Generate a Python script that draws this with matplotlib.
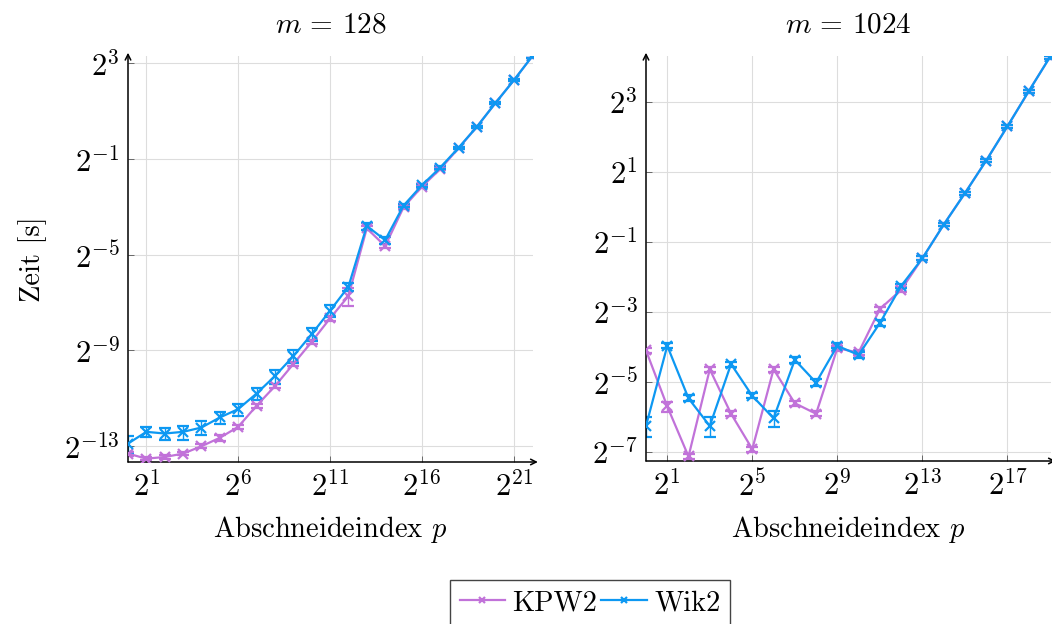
import numpy as np
import matplotlib
matplotlib.use("Agg")
import matplotlib.pyplot as plt
from matplotlib.ticker import FixedLocator, FuncFormatter, NullLocator

plt.rcParams['font.family'] = ['cmr10', 'DejaVu Serif']
plt.rcParams['mathtext.fontset'] = 'cm'
plt.rcParams['axes.unicode_minus'] = False
plt.rcParams['axes.formatter.use_mathtext'] = True

# truncation index p = 2^k
k_128 = [0, 1, 2, 3, 4, 5, 6, 7, 8, 9, 10, 11, 12, 13, 14, 15, 16, 17, 18, 19, 20, 21, 22]
k_1024 = [0, 1, 2, 3, 4, 5, 6, 7, 8, 9, 10, 11, 12, 13, 14, 15, 16, 17, 18, 19]

# mean runtime as log2(seconds)
kpw2_128 = [-13.31, -13.52, -13.45, -13.31, -13.00, -12.65, -12.19, -11.31, -10.49, -9.57, -8.64, -7.66,
            -6.73, -3.90, -4.64, -3.02, -2.16, -1.42, -0.55, 0.35, 1.33, 2.28, 3.28]
wik2_128 = [-12.89, -12.40, -12.47, -12.40, -12.22, -11.80, -11.45, -10.80, -10.07, -9.24, -8.32, -7.34,
            -6.34, -3.80, -4.39, -2.95, -2.10, -1.36, -0.53, 0.35, 1.33, 2.28, 3.28]
kpw2_1024 = [-4.11, -5.71, -7.14, -4.65, -5.92, -6.93, -4.65, -5.62, -5.92, -4.05, -4.17, -2.93,
             -2.38, -1.48, -0.52, 0.38, 1.31, 2.29, 3.29, 4.27]
wik2_1024 = [-6.27, -3.98, -5.48, -6.27, -4.50, -5.41, -6.05, -4.38, -5.03, -3.98, -4.24, -3.33,
             -2.27, -1.48, -0.52, 0.38, 1.31, 2.29, 3.29, 4.27]

# standard deviation relative to the mean
kpw2_128_err = [0.06, 0.05, 0.05, 0.05, 0.06, 0.10, 0.06, 0.06, 0.06, 0.06, 0.06, 0.07,
                0.25, 0.06, 0.06, 0.04, 0.04, 0.04, 0.03, 0.03, 0.03, 0.03, 0.03]
wik2_128_err = [0.25, 0.15, 0.17, 0.20, 0.20, 0.17, 0.17, 0.17, 0.20, 0.18, 0.18, 0.17,
                0.12, 0.10, 0.10, 0.05, 0.04, 0.04, 0.03, 0.03, 0.03, 0.03, 0.03]
kpw2_1024_err = [0.05, 0.10, 0.05, 0.05, 0.05, 0.05, 0.05, 0.05, 0.05, 0.05, 0.05, 0.05,
                 0.05, 0.04, 0.03, 0.03, 0.03, 0.03, 0.03, 0.03]
wik2_1024_err = [0.20, 0.05, 0.06, 0.20, 0.05, 0.05, 0.15, 0.06, 0.07, 0.05, 0.05, 0.06,
                 0.04, 0.04, 0.03, 0.03, 0.03, 0.03, 0.03, 0.03]

KPW2_COLOR = '#c172d9'
WIK2_COLOR = '#0d98f2'


def pow2_label(v, pos):
    return r'$2^{%d}$' % round(np.log2(v))


def draw_panel(ax, k, series, xticks, yticks, xlim, ylim, title):
    p = 2.0 ** np.array(k)
    for vals, rel, color, label in series:
        t = 2.0 ** np.array(vals)
        ax.errorbar(p, t, yerr=t * np.array(rel), color=color, lw=1.6, marker='x',
                    ms=6.5, mew=1.6, ecolor=color, elinewidth=1.0, capsize=4,
                    capthick=1.0, label=label, zorder=3)
    ax.set_xscale('log', base=2)
    ax.set_yscale('log', base=2)
    ax.set_xlim(2.0 ** xlim[0], 2.0 ** xlim[1])
    ax.set_ylim(2.0 ** ylim[0], 2.0 ** ylim[1])
    ax.xaxis.set_major_locator(FixedLocator([2.0 ** e for e in xticks]))
    ax.yaxis.set_major_locator(FixedLocator([2.0 ** e for e in yticks]))
    ax.xaxis.set_minor_locator(NullLocator())
    ax.yaxis.set_minor_locator(NullLocator())
    ax.xaxis.set_major_formatter(FuncFormatter(pow2_label))
    ax.yaxis.set_major_formatter(FuncFormatter(pow2_label))
    ax.tick_params(direction='in', length=4, width=0.6, color='#555555', labelsize=22, pad=6)
    ax.grid(True, color='#dddddd', lw=0.8)
    for s in ax.spines.values():
        s.set_visible(False)
    # axis lines with arrow heads
    arrow = dict(arrowstyle='->', lw=1.1, color='black', shrinkA=0, shrinkB=0,
                 mutation_scale=10)
    ax.annotate('', xy=(1.012, 0), xytext=(0, 0), xycoords='axes fraction', arrowprops=arrow)
    ax.annotate('', xy=(0, 1.008), xytext=(0, 0), xycoords='axes fraction', arrowprops=arrow)
    ax.set_title(title, fontsize=21, pad=17)
    ax.set_xlabel(r'Abschneideindex $p$', fontsize=20.5, labelpad=9)


fig = plt.figure(figsize=(10.52, 6.24), dpi=100)
ax1 = fig.add_axes([128 / 1052, 1 - 462 / 624, 405 / 1052, 406 / 624])
ax2 = fig.add_axes([646 / 1052, 1 - 461 / 624, 405 / 1052, 405 / 624])

draw_panel(ax1, k_128,
           [(kpw2_128, kpw2_128_err, KPW2_COLOR, 'KPW2'),
            (wik2_128, wik2_128_err, WIK2_COLOR, 'Wik2')],
           [1, 6, 11, 16, 21], [-13, -9, -5, -1, 3],
           (0, 22.05), (-13.66, 3.3), r'$m\,=\,128$')
draw_panel(ax2, k_1024,
           [(kpw2_1024, kpw2_1024_err, KPW2_COLOR, 'KPW2'),
            (wik2_1024, wik2_1024_err, WIK2_COLOR, 'Wik2')],
           [1, 5, 9, 13, 17], [-7, -5, -3, -1, 1, 3],
           (0, 19.05), (-7.27, 4.3), r'$m\,=\,1024$')

ax1.set_ylabel('Zeit [s]', fontsize=20.5, labelpad=12)

handles, labels = ax1.get_legend_handles_labels()
handles = [h[0] for h in handles]
fig.legend(handles, labels, loc='upper center', bbox_to_anchor=(590 / 1052, 1 - 580 / 624),
           ncol=2, fontsize=20.5, frameon=True, fancybox=False, edgecolor='#444444',
           handlelength=1.6, handletextpad=0.25, columnspacing=0.15, borderpad=0.35,
           borderaxespad=0, framealpha=1, markerscale=0.7)

fig.savefig('out.png', dpi=100)
